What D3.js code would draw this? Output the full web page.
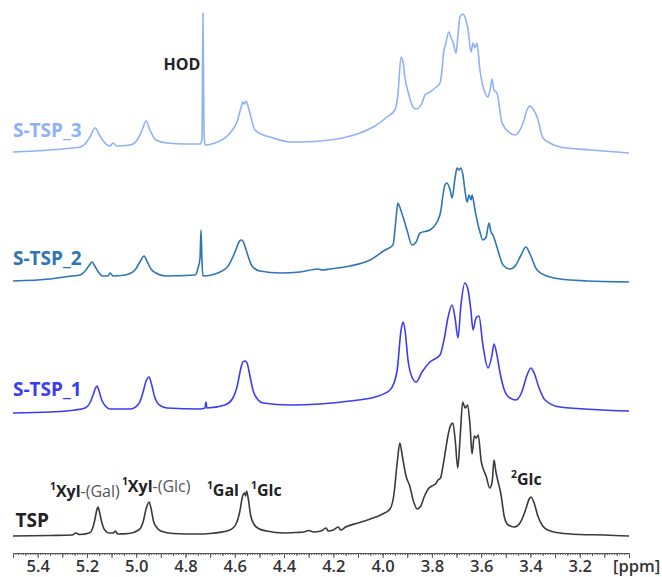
<!DOCTYPE html>
<html>
<head>
<meta charset="utf-8">
<script src="https://cdn.jsdelivr.net/npm/d3@7"></script>
<style>
  body { margin: 0; background: #fff; }
  svg { display: block; font-family: 'Open Sans', sans-serif; }
</style>
</head>
<body>
<div id="chart"></div>
<script>
// spectra: [ppm, intensity above the trace's own baseline]
var tsp = [
  [5.50,0],[5.35,0.5],[5.26,1],[5.245,3],[5.23,1.5],[5.19,3],[5.178,7],[5.168,16],[5.16,26],[5.155,29],[5.15,25],
  [5.14,14],[5.128,6],[5.11,3],[5.092,3],[5.085,5],[5.075,2],[5.03,2.5],[4.99,6],[4.972,14],[4.96,27],[4.948,34],
  [4.94,28],[4.93,15],[4.915,8],[4.90,5],[4.85,2.5],[4.75,2],[4.70,2.5],[4.62,6],[4.595,12],[4.58,24],[4.568,40],
  [4.56,43],[4.556,40],[4.552,45],[4.545,37],[4.535,20],[4.52,11],[4.50,7],[4.47,5],[4.40,3],[4.35,3.5],[4.32,4],
  [4.30,5.5],[4.28,4],[4.25,5],[4.23,8],[4.22,5],[4.20,6],[4.18,9],[4.17,6],[4.15,9],[4.10,13],
  [4.05,17],[4.00,22],[3.97,27],[3.955,40],[3.94,75],[3.93,93],[3.92,80],[3.905,60],[3.89,50],[3.875,35],
  [3.86,27],[3.845,30],[3.83,40],[3.815,47],[3.80,50],[3.785,52],[3.775,56],[3.765,58],[3.755,70],[3.745,85],
  [3.735,100],[3.725,110],[3.715,113],[3.705,95],[3.695,68],[3.685,100],[3.675,134],[3.665,128],[3.655,131],[3.645,110],
  [3.637,82],[3.628,100],[3.62,98],[3.612,101],[3.60,75],[3.59,66],[3.58,60],[3.565,48],[3.555,55],[3.548,76],
  [3.54,64],[3.533,56],[3.52,42],[3.505,18],[3.49,11],[3.465,9],[3.44,14],[3.42,26],[3.405,37],[3.398,39],
  [3.385,33],[3.37,20],[3.35,10],[3.33,6],[3.28,3],[3.20,1.5],[3.10,1],[3.00,0]
];

var stsp1 = [
  [5.50,-1],[5.35,0],[5.248,2],[5.208,4],[5.188,9],[5.175,17],[5.165,24],[5.159,26],[5.152,22],[5.14,12],[5.125,6],[5.106,3],
  [5.025,3],[4.99,8],[4.972,20],[4.96,31],[4.948,35],[4.938,28],[4.925,15],[4.91,8],[4.875,4],[4.741,3],[4.721,4],[4.717,10],
  [4.713,4],[4.64,7],[4.61,13],[4.59,26],[4.575,44],[4.567,50],[4.558,51],[4.55,49],[4.54,38],[4.525,21],[4.505,12],[4.485,9],
  [4.376,7],[4.254,8],[4.132,11],[4.031,15],[3.97,22],[3.942,40],[3.925,82],[3.917,90],[3.909,82],[3.897,52],
  [3.881,35],[3.864,30],[3.84,40],[3.808,50],[3.767,57],[3.747,77],[3.735,94],[3.718,107],[3.706,94],[3.694,74],
  [3.682,107],[3.666,129],[3.653,122],[3.641,100],[3.633,82],[3.621,94],[3.609,96],[3.593,67],[3.572,44],[3.556,57],
  [3.548,68],[3.536,57],[3.524,40],[3.503,20],[3.483,14],[3.459,12],[3.435,20],[3.415,36],[3.398,44],[3.385,39],[3.365,24],[3.341,12],
  [3.28,5],[3.00,1]
];

var stsp2 = [
  [5.50,0],[5.35,2],[5.261,5],[5.228,6],[5.204,11],[5.19,16],[5.179,19],[5.168,15],[5.159,11],[5.135,5],[5.114,5],[5.106,8],
  [5.094,5],[5.045,6],[5.005,11],[4.985,19],[4.968,25],[4.955,19],[4.94,12],[4.92,8],[4.883,5],[4.761,6],[4.749,13],
  [4.741,23],[4.737,51],[4.733,19],[4.729,5],[4.68,7],[4.627,15],[4.599,29],[4.583,39],[4.575,41],[4.567,40],
  [4.554,31],[4.53,15],[4.498,10],[4.416,8],[4.335,9],[4.262,12],[4.246,11],[4.213,12],[4.132,15],[4.051,21],
  [3.99,31],[3.958,36],[3.946,61],[3.938,78],[3.929,73],[3.917,64],[3.901,51],[3.881,36],[3.864,39],[3.848,48],
  [3.808,51],[3.779,59],[3.763,71],[3.755,86],[3.747,96],[3.739,98],[3.726,91],[3.718,83],[3.706,103],[3.698,113],
  [3.69,111],[3.682,113],[3.674,106],[3.666,91],[3.657,79],[3.649,86],[3.641,81],[3.637,86],[3.625,71],[3.617,61],
  [3.605,49],[3.593,41],[3.58,44],[3.568,58],[3.56,49],[3.552,46],[3.536,34],[3.511,16],[3.483,12],[3.459,16],
  [3.438,26],[3.418,34],[3.402,27],[3.373,11],[3.321,4],[3.239,1],[3.00,-1]
];

var stsp3 = [
  [5.50,1],[5.35,3],[5.261,5],[5.228,6],[5.208,9],[5.188,16],[5.167,25],[5.147,17],[5.123,9],[5.106,7],
  [5.094,10],[5.078,7],[5.025,8],[4.993,14],[4.976,23],[4.96,32],[4.944,23],[4.92,13],[4.875,10],[4.802,9],
  [4.741,9],[4.733,13],[4.729,140],[4.725,23],[4.721,8],[4.68,10],[4.619,20],[4.591,31],[4.575,45],[4.567,51],
  [4.56,49],[4.554,52],[4.542,43],[4.518,23],[4.485,18],[4.457,16],[4.376,11],[4.335,11],[4.213,13],[4.092,20],
  [4.031,27],[3.982,36],[3.95,43],[3.938,58],[3.925,96],[3.917,91],[3.909,75],[3.893,58],[3.877,46],[3.864,44],
  [3.84,50],[3.828,58],[3.808,61],[3.787,65],[3.767,70],[3.759,83],[3.751,103],[3.747,106],[3.731,121],[3.722,115],
  [3.714,111],[3.702,100],[3.694,118],[3.686,136],[3.674,139],[3.666,136],[3.653,123],[3.641,101],[3.633,110],[3.625,105],
  [3.617,110],[3.605,83],[3.584,60],[3.572,56],[3.564,63],[3.556,74],[3.548,63],[3.536,60],[3.515,30],[3.483,20],
  [3.463,18],[3.43,30],[3.414,43],[3.402,47],[3.39,44],[3.373,36],[3.349,15],[3.321,10],[3.28,6],[3.158,3],
  [3.00,0]
];

var names = ['TSP', 'S-TSP_1', 'S-TSP_2', 'S-TSP_3'];
var offsets = [0, 124, 255, 383];   // vertical stacking of the traces
var colors = ['#3a3a3a', '#3c3cf2', '#2e75b6', '#8fb1f7'];

var tickLabels = ['5.4','5.2','5.0','4.8','4.6','4.4','4.2','4.0','3.8','3.6','3.4','3.2'];

// peak assignments: [sup, bold part, plain part, ppm, height]
var peakLabels = [
  ['1', 'Xyl', '-(Gal)', 5.35, 39],
  ['1', 'Xyl', '-(Glc)', 5.058, 44],
  ['1', 'Gal', '', 4.713, 40],
  ['1', 'Glc', '', 4.534, 40],
  ['2', 'Glc', '', 3.479, 51]
];

(function() {
  var W = 662, H = 577;

  var x = d3.scaleLinear().domain([5.5, 3.0]).range([13, 629]);
  var y = d3.scaleLinear().domain([0, 523]).range([536, 13]);

  var svg = d3.select('#chart').append('svg')
    .attr('width', W)
    .attr('height', H);

  var spectra = [tsp, stsp1, stsp2, stsp3];

  spectra.forEach(function(s, i) {
    var line = d3.line()
      .x(function(d) { return x(d[0]); })
      .y(function(d) { return y(d[1] + offsets[i]); })
      .curve(d3.curveMonotoneX);

    svg.append('path')
      .datum(s)
      .attr('d', line)
      .attr('fill', 'none')
      .attr('stroke', colors[i])
      .attr('stroke-width', 1.6)
      .attr('stroke-linejoin', 'round');

    // trace name on the left
    svg.append('text')
      .attr('x', x(i == 0 ? 5.49 : 5.5))
      .attr('y', y(offsets[i] + (i == 0 ? 9 : 16)))
      .attr('font-size', 19)
      .attr('font-weight', 700)
      .attr('fill', i == 0 ? '#222' : colors[i])
      .text(names[i]);
  });

  // HOD label
  svg.append('text')
    .attr('x', x(4.74))
    .attr('y', y(466))
    .attr('text-anchor', 'end')
    .attr('font-size', 16)
    .attr('font-weight', 700)
    .attr('fill', '#222')
    .text('HOD');

  // peak assignments on the TSP trace
  peakLabels.forEach(function(p) {
    var t = svg.append('text')
      .attr('x', x(p[3]))
      .attr('y', y(p[4]))
      .attr('font-size', 16)
      .attr('fill', '#222');
    t.append('tspan').text(p[0])
      .attr('font-weight', 700)
      .attr('font-size', '0.65em')
      .attr('baseline-shift', 'super');
    t.append('tspan').text(p[1])
      .attr('font-weight', 700);
    if (p[2]) {
      t.append('tspan').text(p[2])
        .attr('fill', '#555');
    }
  });

  // x axis: minor, mid and major ticks
  var axisY = 553;
  var minor = d3.range(0, 251).map(function(k) { return +(3.0 + k * 0.01).toFixed(2); });
  var mid = d3.range(0, 51).map(function(k) { return +(3.0 + k * 0.05).toFixed(2); });
  var major = d3.range(0, 26).map(function(k) { return +(3.0 + k * 0.1).toFixed(1); });

  var gx = svg.append('g').attr('transform', 'translate(0,' + axisY + ')');

  gx.append('g')
    .call(d3.axisBottom(x).tickValues(minor).tickSize(2).tickFormat(''))
    .call(function(g) { g.select('.domain').remove(); });
  gx.append('g')
    .call(d3.axisBottom(x).tickValues(mid).tickSize(3).tickFormat(''))
    .call(function(g) { g.select('.domain').remove(); });
  gx.append('g')
    .call(d3.axisBottom(x).tickValues(major).tickSize(5).tickSizeOuter(0)
      .tickFormat(function(d) {
        var s = d.toFixed(1);
        return tickLabels.indexOf(s) >= 0 ? s : '';
      }))
    .call(function(g) {
      g.selectAll('text')
        .attr('dy', 0)
        .attr('y', 19)
        .attr('font-family', "'Open Sans', sans-serif")
        .attr('font-size', 16.5)
        .attr('font-weight', 600)
        .attr('fill', '#333');
    });

  gx.selectAll('line').attr('stroke', '#555');
  gx.selectAll('.domain').attr('stroke', '#555');

  gx.append('text')
    .attr('x', 613)
    .attr('y', 19)
    .attr('font-size', 16.5)
    .attr('font-weight', 600)
    .attr('fill', '#333')
    .text('[ppm]');
})();
</script>
</body>
</html>
